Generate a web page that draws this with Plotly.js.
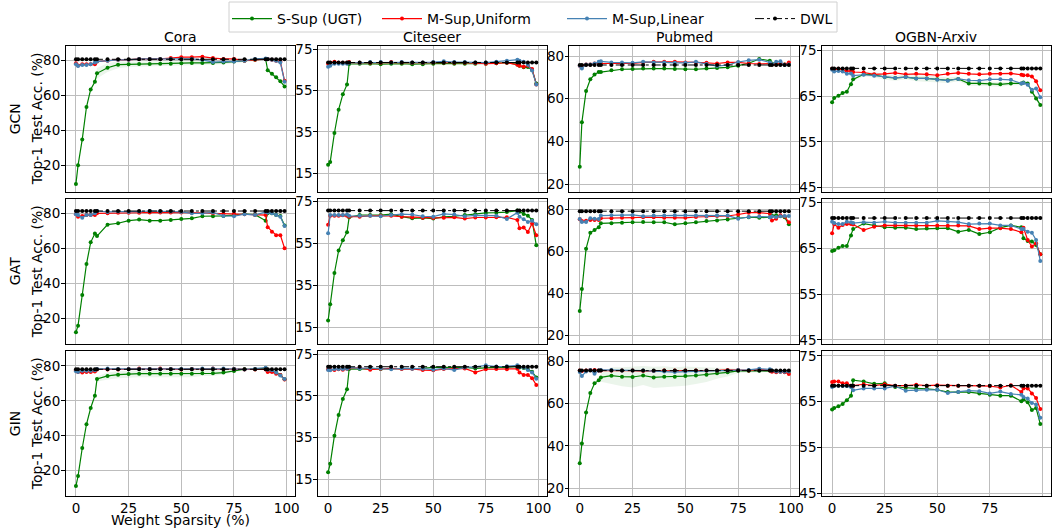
<!DOCTYPE html>
<html>
<head>
<meta charset="utf-8">
<script src="https://cdn.plot.ly/plotly-3.0.1.min.js"></script>
<style>html,body{margin:0;padding:0;background:#fff;}#chart{width:1055px;height:529px;}</style>
</head>
<body>
<div id="chart"></div>
<script>
// ---------------- DATA ----------------
const sparsity = [0,1,3,5,7,9,10,15,20,25,30,35,40,45,50,55,60,65,70,75,80,85,90,91,93,95,97,99];
const datasets = ["Cora","Citeseer","Pubmed","OGBN-Arxiv"];
const models = ["GCN","GAT","GIN"];
const seriesNames = ["S-Sup (UGT)","M-Sup,Uniform","M-Sup,Linear","DWL"];
const xTicks = [0,25,50,75,100];

// GCN
const coraGcnSSup = [9.5,20.2,35,53.5,63.6,68,72.8,76,77.7,77.9,78.1,78.1,78.3,78.3,78.5,78.7,78.7,78.7,79,79.5,80,80.5,81,74.5,72.5,70.6,68.2,65.3];
const coraGcnUni  = [78.5,77.2,78,78,78,78,79.5,80,80.5,80.5,81,81,81,81.5,82,82,82.3,81.5,81,81,80,80.5,81,81,80.5,80,79.5,68.5];
const coraGcnLin  = [78,77,77.5,77.5,78,79,79.5,80,80.5,80.5,81,81,81,81,81,81,80.5,79.2,79.5,79.5,80,81,81.3,81,80.5,80,79,68];
const coraGcnDwl  = 80.8;
const coraGcnSSupStd = [0,0,0,0,0,0,3,2.5,2,1.5,1.5,1.5,1.5,1.5,1.2,1.2,1.2,1,1,1,1,0.8,0.5,1,1,1,1,1];

const citeGcnSSup = [19.2,20.5,34.5,45.8,53.2,58,67.9,68,68,67.8,68,68,67.8,67.8,68,68.2,68,68,68,68,68.3,68.5,67.7,67,66.3,66.4,65,58.5];
const citeGcnUni  = [68,68.5,69,68.5,68.5,68.5,68.8,68.5,68.5,68.5,68.8,68.6,68.5,68.5,68.6,68.6,68.5,68.5,68.3,68,68.2,68.5,67.5,67,66.5,67,65.5,58];
const citeGcnLin  = [66.5,67,68,68,68,68,68.5,68.5,68.8,68.8,68.6,68.8,68.6,68.6,68.8,69.2,68.8,68.8,68.6,68.6,69,69.5,70,69.5,69,67.5,64.7,58];
const citeGcnDwl  = 68.6;

const pubGcnSSup = [28.1,48.9,63.6,69.1,71.3,72.5,72.5,73.3,73.8,73.9,74.1,74.1,74.1,73.9,73.8,73.8,74.1,74.4,74.7,75.5,76.6,78.6,77.8,76.5,76,76.3,76,76];
const pubGcnUni  = [75.5,75.5,76,76,76.5,76.5,76.5,76.5,76.5,76.5,77,77.3,77.3,77.3,77,77,76.8,76.5,77,77,76.5,76.3,76.5,76,76,76.5,76,77];
const pubGcnLin  = [75.5,74.2,76,76,76.5,77.3,77.5,77,77,76.8,77.3,77,77,76.8,76.8,77.3,76.3,75.3,75.8,77.2,78,78.3,77,76.2,77.3,77.5,75.8,76];
const pubGcnDwl  = 75.8;

const arxGcnSSup = [63.7,64.6,65.1,65.7,66,67.6,68.7,69.8,69.7,69.2,69,69.2,68.9,68.9,68.7,68.5,68.8,67.8,67.8,67.7,67.6,67.8,67.8,68,67.8,66,64.5,63.1];
const arxGcnUni  = [71,70.8,71,70.8,70.5,70.5,70.3,70.2,69.8,69.9,70.1,69.8,69.9,69.8,69.6,69.9,70.1,69.9,69.8,69.9,69.9,70,69.7,69.6,69.6,69.3,68.3,66.3];
const arxGcnLin  = [70.8,70.4,70.5,70.4,69.9,70,69.5,69.7,69.5,69.2,69,69.2,68.9,68.9,68.6,68.4,68.8,68.5,68.4,68.7,68.7,68.6,67.8,67.9,67.5,66.4,66.7,64.8];
const arxGcnDwl  = 71.1;
const arxGcnSSupStd = [0.2,0.2,0.2,0.2,0.2,0.3,0.3,0.5,0.6,0.6,0.6,0.5,0.6,0.7,0.6,0.6,0.5,0.5,0.5,0.5,0.5,0.4,0.4,0.4,0.4,0.4,0.4,0.4];

// GAT
const coraGatSSup = [12,15.8,33.3,51,63.4,68.4,67,73.5,74.3,75.8,76.4,75.8,75.8,76.2,76.8,77.1,78.3,78.3,78.5,79,79.6,79.2,75.8,80,80,79,78.5,73];
const coraGatUni  = [79.5,78,78.5,79,79,79,80,80,80.3,80.3,80.3,80.5,80.5,80.5,80.5,80.3,80.3,80,79.8,79.8,79.5,79,79,72,69.5,67.5,67.5,60];
const coraGatLin  = [79.5,79,77.5,79,79,80,81.3,80.8,81,80.8,81,81.3,81,81,80.8,80,80,80.5,78.5,78.3,79.5,79,80.8,80.5,80,79,78,72.8];
const coraGatDwl  = 81.3;

const citeGatSSup = [18.2,26,40.9,51.6,56.5,60.4,67.5,68.6,68.6,68.6,69,67.8,67,67.2,66.9,67.7,68,68.6,69,69.6,69.7,70,70.7,70.2,69.1,68.3,66.2,54.1];
const citeGatUni  = [63.9,68.3,68.2,68.3,68.5,68.3,67.8,67.8,68.2,68.2,68.2,67.8,67.5,67.3,67.2,67.3,67.5,66.9,67.4,67.4,67.5,67.5,66.2,62.3,62.6,60.5,64.6,58.9];
const citeGatLin  = [59.9,68.6,68.6,68.6,68.6,68.8,68.2,68.2,68.2,68,68.6,69,68.8,68,67.8,69.1,68.8,68,68.4,68.4,68.3,66.7,69.7,67.8,66.6,65.3,65.9,64.2];
const citeGatDwl  = 70.7;

const pubGatSSup = [31.5,42.1,61.4,69,70.4,71.7,73.6,73.6,73.9,74.1,74.2,74.1,74.1,73.1,73.6,74.1,74.7,74.9,75.4,76.2,76.5,76.3,76.5,77.3,77.4,77.1,76.5,73.1];
const pubGatUni  = [75.5,74.7,74.8,75.2,75.2,75.2,76,76,76.2,76.3,76.5,76.5,76.3,76.3,76.2,76.6,76.8,77.1,77.1,77.8,78.7,78.7,78.2,74.9,75.8,77.4,76.8,74.1];
const pubGatLin  = [75.7,74.2,74.2,76,75.8,75.7,77.3,77.4,77.4,77.6,77,77.3,77.3,77.4,77.4,77.3,77.1,77.3,77.3,75.8,76.6,76.8,76.5,76.8,76.6,77,77.1,77.1];
const pubGatDwl  = 79.4;

const arxGatSSup = [64.4,64.6,65.1,65.5,65.5,67.8,69.2,70.4,70,69.6,69.5,69.5,69.2,69.3,69.4,69.4,68.6,69,68.1,68.5,69.5,70,69.6,67.2,66.6,66.5,65.7,63.7];
const arxGatUni  = [68.3,70.3,69.5,70.1,70.3,70.3,70.2,69,69.7,70,70,70,70,70,70,69.9,70,69.9,69.2,69.4,69.4,69.2,68.5,69.5,66.8,65.4,66.1,63.7];
const arxGatLin  = [70.8,70.5,70.3,70.3,70.8,70.7,70.5,70.7,70.6,70.8,70.6,70.6,70.6,70.6,71,70.8,70.7,70.3,70.4,70.4,70,70,69.2,69.2,68.6,68.4,66.8,62.2];
const arxGatDwl  = 71.6;

// GIN
const coraGinSSup = [11.2,16.9,33,46.6,55.9,63,72.5,74.3,75,75.4,75.6,75.6,75.6,75.6,75.6,75.6,75.8,75.8,76.2,77.1,78.1,78.1,78.7,77.7,77.1,76.2,74.8,72.4];
const coraGinUni  = [77.5,76.5,76.3,76.5,76.5,76.8,78,78,78,78.2,78.5,78.2,78.5,78.2,78,78.2,78.2,78.5,78.2,78.2,78,78,78,76.5,76.5,75.5,74.8,72.3];
const coraGinLin  = [77,76.5,77.3,77.3,77.3,77.6,78.3,78.5,78.3,78.3,78.3,78.3,78.3,78.3,78.3,78.3,78.5,78.5,78.5,78.3,78,78.3,79,77.8,77.5,76.3,74.5,72.5];
const coraGinDwl  = 78.1;
const coraGinSSupStd = [0,0,0,0,0,0,1.5,2,2,2,2,2,2,2,2,2,1.5,1.5,1,0.5,0.5,0.5,0.5,0.5,0.5,0.5,0.5,0.5];

const citeGinSSup = [18.4,22.4,35.9,45.8,53.5,58.1,67.8,67.8,67.9,67.8,68.1,68.1,68.1,68.1,68.6,68.6,68.4,68.6,68.1,68.4,68.6,68.6,69.1,68.6,68.3,67.6,66.5,63.8];
const citeGinUni  = [67.7,67.5,67.3,67.7,67.5,67.9,68.3,68.4,67.5,67.9,68.1,67.8,67.9,67.3,67.2,67.8,68.1,68.1,66.2,67.7,67.8,67.7,67.9,66.1,65,65,63.4,60.2];
const citeGinLin  = [67.3,67.2,67.8,67.8,67.8,68,68.6,68.1,68.3,68.1,67.7,68.1,68,68,67.5,68.1,67.3,68.6,68.8,69.6,69,69.1,69.6,68.8,68.5,67.3,66.2,63.2];
const citeGinDwl  = 68.9;

const pubGinSSup = [31.8,41.1,55.8,64.9,69.5,70.9,72.3,73.1,72.6,72.5,73.2,72.3,72.6,72.6,72.9,73.2,73.6,74.2,74.7,75.4,75.4,75.4,75.6,75.3,75.1,75.1,75,75];
const pubGinUni  = [75.6,75.3,75.5,75.8,75.8,75.5,75.6,75.5,75.6,75.5,75.3,75.3,75.5,75.6,75.6,75.5,75.6,75.6,75.8,75.8,75.6,76.1,75.6,75,74.7,75,74.7,73.9];
const pubGinLin  = [74.8,72.9,75.1,75.8,74,75.6,75.8,75.8,75.6,75.6,75.5,75.3,75.1,74.8,75,75.1,75.5,75.6,75.6,75.8,75.8,76.4,76.1,75.6,75.1,75,75,75.1];
const pubGinDwl  = 75.5;
const pubGinSSupStd = [0,0,0,0,0,0,2,4,4.5,5,4.5,5,5,4.5,4.5,4,3.5,2.5,2,1,0.8,0.8,0.5,0.5,0.5,0.5,0.5,0.5];

const arxGinSSup = [63.3,63.6,64,64.5,65.3,66.3,69.7,69.4,68.9,69,68.2,68,67.9,67.8,67.6,67.1,67.1,67.1,66.8,66.5,66.3,66.3,65.1,65.5,64.9,63.2,63.6,60.1];
const arxGinUni  = [69.3,69.4,69.4,69,69,68.5,68.5,68.8,68.5,68.8,68.5,68.5,68.7,68.5,68.6,68.5,68.5,68.5,68.5,68.4,68.1,68.6,67.1,67.9,67.9,66.8,65.8,63.4];
const arxGinLin  = [68.2,68.5,68.5,68.4,68.4,68.2,67.5,67.9,67.9,67.9,68.4,67.4,67.5,67.6,67.6,66.9,67.1,67.4,67.3,66.8,67.2,66.7,66.5,66,65.7,64.7,64.4,61.5];
const arxGinDwl  = 68.5;

// ---------------- PANELS ----------------
const panels = [
  [coraGcnSSup, coraGcnUni, coraGcnLin, coraGcnDwl, coraGcnSSupStd],
  [citeGcnSSup, citeGcnUni, citeGcnLin, citeGcnDwl, null],
  [pubGcnSSup,  pubGcnUni,  pubGcnLin,  pubGcnDwl,  null],
  [arxGcnSSup,  arxGcnUni,  arxGcnLin,  arxGcnDwl,  arxGcnSSupStd],
  [coraGatSSup, coraGatUni, coraGatLin, coraGatDwl, null],
  [citeGatSSup, citeGatUni, citeGatLin, citeGatDwl, null],
  [pubGatSSup,  pubGatUni,  pubGatLin,  pubGatDwl,  null],
  [arxGatSSup,  arxGatUni,  arxGatLin,  arxGatDwl,  null],
  [coraGinSSup, coraGinUni, coraGinLin, coraGinDwl, coraGinSSupStd],
  [citeGinSSup, citeGinUni, citeGinLin, citeGinDwl, null],
  [pubGinSSup,  pubGinUni,  pubGinLin,  pubGinDwl,  pubGinSSupStd],
  [arxGinSSup,  arxGinUni,  arxGinLin,  arxGinDwl,  null]
];

// ---------------- LAYOUT CONFIG ----------------
const W = 1055, H = 529;
const colPx = [[65.5,295],[317.7,546.7],[569.3,799.3],[821.7,1050.7]];
const rowPx = [[46,191.7],[199.3,344],[351.3,496]];
const yRanges = [
  [[5.1,88.4],[6.1,76.6],[16.4,84.7],[44.1,76.0]],
  [[5.3,88.0],[7.0,76.1],[15.7,85.1],[44.1,75.7]],
  [[5.5,88.4],[7.0,76.3],[16.4,84.6],[44.4,76.0]]
];
const yTicks = [[20,40,60,80],[15,35,55,75],[20,40,60,80],[45,55,65,75]];
const colors = ["#008000","#ff0000","#4682b4","#000000"];
const legendLineStart = [235, 385, 570, 758];
const FONT = "DejaVu Sans";

const traces = [];
const layout = {
  width: W, height: H,
  margin: {l:0,r:0,t:0,b:0},
  paper_bgcolor: "#fff", plot_bgcolor: "#fff",
  font: {family: FONT, size: 14, color: "#000"},
  showlegend: true,
  annotations: [],
  shapes: [{type: "rect", xref: "paper", yref: "paper",
    x0: 229/W, x1: 837/W, y0: 1 - 32/H, y1: 1 - 2/H,
    line: {color: "#d0d0d0", width: 1}, fillcolor: "rgba(255,255,255,0.8)", layer: "below"}]
};
const legendKeys = ["legend","legend2","legend3","legend4"];
legendKeys.forEach((key, k) => {
  layout[key] = {
    orientation: "h", x: (legendLineStart[k] - 8)/W, xanchor: "left", y: 1 - 3/H, yanchor: "top",
    bgcolor: "rgba(0,0,0,0)", borderwidth: 0, font: {family: FONT, size: 14}, itemwidth: 40
  };
});

panels.forEach((p, i) => {
  const r = Math.floor(i/4), c = i % 4;
  const n = i + 1;
  const xa = "x" + (n===1 ? "" : n), ya = "y" + (n===1 ? "" : n);
  const xk = "xaxis" + (n===1 ? "" : n), yk = "yaxis" + (n===1 ? "" : n);
  const common = {
    showline: true, mirror: true, linecolor: "#000", linewidth: 1,
    showgrid: true, gridcolor: "#bdbdbd", gridwidth: 1,
    zeroline: false, tickcolor: "#000", tickwidth: 1,
    tickfont: {family: FONT, size: 13.5, color: "#000"}, automargin: false, fixedrange: true
  };
  layout[xk] = Object.assign({}, common, {
    domain: [colPx[c][0]/W, colPx[c][1]/W], anchor: ya,
    range: [-4.95, 103.95], tickmode: "array", tickvals: xTicks,
    ticks: "", ticklen: 0, showticklabels: r === 2
  });
  layout[yk] = Object.assign({}, common, {
    domain: [1 - rowPx[r][1]/H, 1 - rowPx[r][0]/H], anchor: xa,
    range: yRanges[r][c], tickmode: "array", tickvals: yTicks[c],
    ticks: "outside", ticklen: 3.5, ticklabelstandoff: -2
  });

  const [s, u, l, d, sd] = p;
  if (sd) {
    traces.push({x: sparsity, y: s.map((v,k)=>v+sd[k]), xaxis: xa, yaxis: ya, mode: "lines",
      line: {width: 0, color: "rgba(0,128,0,0)"}, showlegend: false, hoverinfo: "skip"});
    traces.push({x: sparsity, y: s.map((v,k)=>v-sd[k]), xaxis: xa, yaxis: ya, mode: "lines",
      line: {width: 0, color: "rgba(0,128,0,0)"}, fill: "tonexty", fillcolor: "rgba(0,128,0,0.08)",
      showlegend: false, hoverinfo: "skip"});
  }
  const ys = [s, u, l, sparsity.map(() => d)];
  ys.forEach((yv, k) => {
    traces.push({
      x: sparsity, y: yv, xaxis: xa, yaxis: ya, name: seriesNames[k],
      mode: "lines+markers",
      line: {color: colors[k], width: k===3 ? 1 : 1.2, dash: k===3 ? "dashdot" : "solid"},
      marker: {color: colors[k], size: 4},
      showlegend: i === 0, legend: legendKeys[k]
    });
  });
});

// Column titles
datasets.forEach((t, c) => {
  layout.annotations.push({text: t, xref: "paper", yref: "paper",
    x: (colPx[c][0]+colPx[c][1])/2/W, y: 1 - 37/H, xanchor: "center", yanchor: "middle",
    showarrow: false, font: {family: FONT, size: 14}});
});
// Row labels
models.forEach((m, r) => {
  const yc = 1 - (rowPx[r][0]+rowPx[r][1])/2/H;
  layout.annotations.push({text: m, xref: "paper", yref: "paper", x: 14.5/W, y: yc,
    xanchor: "center", yanchor: "middle", textangle: -90, showarrow: false, font: {family: FONT, size: 14}});
  layout.annotations.push({text: "Top-1 Test Acc. (%)", xref: "paper", yref: "paper", x: 36.5/W, y: yc,
    xanchor: "center", yanchor: "middle", textangle: -90, showarrow: false, font: {family: FONT, size: 14}});
});
// X title
layout.annotations.push({text: "Weight Sparsity (%)", xref: "paper", yref: "paper",
  x: (colPx[0][0]+colPx[0][1])/2/W, y: 0, xanchor: "center", yanchor: "bottom",
  showarrow: false, font: {family: FONT, size: 14}, borderpad: 0});

Plotly.newPlot("chart", traces, layout, {displayModeBar: false, staticPlot: true});
</script>
</body>
</html>
